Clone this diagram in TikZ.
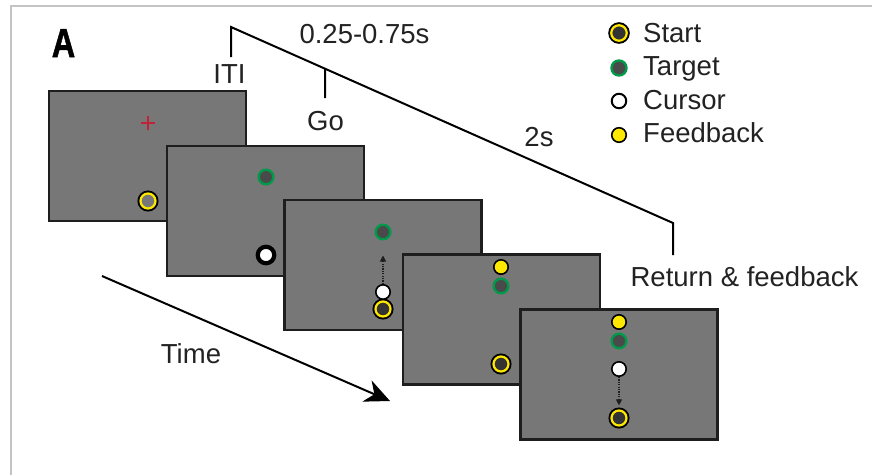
\documentclass[tikz,border=0pt]{standalone}
\usepackage{fontspec}
\setmainfont{Liberation Sans}
\newfontfamily\panelfont[FakeBold=1.5]{Liberation Sans Bold}
\usetikzlibrary{arrows.meta,calc}
\definecolor{scr}{HTML}{777777}
\definecolor{edge}{HTML}{1E1E1E}
\definecolor{tgtgreen}{HTML}{00994A}
\definecolor{tgtfill}{HTML}{4A4A4A}
\definecolor{startfill}{HTML}{333333}
\definecolor{fbyellow}{HTML}{FFE800}
\definecolor{crossred}{HTML}{C02338}
\definecolor{txt}{HTML}{222222}
\definecolor{framegray}{HTML}{C4C4C4}
\begin{document}
\begin{tikzpicture}[x=1pt,y=-1pt,
  screen/.style={draw=edge, fill=scr, line width=2.5pt, minimum width=197pt, minimum height=130pt, inner sep=0pt, outer sep=0pt},
  startmk/.style={circle, inner sep=0pt, minimum size=15pt, fill=startfill, draw=fbyellow, line width=2.2pt, preaction={draw=black, line width=6pt}},
  startgray/.style={startmk, fill=scr},
  tgtmk/.style={circle, inner sep=0pt, minimum size=14.6pt, fill=tgtfill, draw=tgtgreen, line width=2.4pt},
  bigcur/.style={circle, inner sep=0pt, minimum size=16.5pt, fill=white, draw=black, line width=4.2pt},
  curmk/.style={circle, inner sep=0pt, minimum size=14.4pt, fill=white, draw=black, line width=1.6pt},
  fbmk/.style={circle, inner sep=0pt, minimum size=14.4pt, fill=fbyellow, draw=black, line width=1.6pt},
  lbl/.style={font=\fontsize{27.5}{30}\selectfont, text=txt, inner sep=0pt, anchor=base},
  legtxt/.style={lbl, anchor=base west},
  tline/.style={draw=black, line width=2pt},
  dotarrow/.style={draw=edge, line width=1.1pt, dash pattern=on 1.2pt off 1.2pt, -{Triangle[length=6pt,width=6pt]}},
]
\useasboundingbox (0,0) rectangle (872,475);
\fill[white] (0,0) rectangle (872,475);
\draw[framegray, line width=1.2pt] (11,475) -- (11,6) -- (872,6);

% panel letter
\node[inner sep=0pt, anchor=base, text=black] (panelA) at (63.5,57)
  {\scalebox{0.8}[1]{\fontsize{40.5}{42}\panelfont A}};

% timeline
\coordinate (itiBot) at (231,57);
\coordinate (itiTop) at (231,27);
\coordinate (retTop) at (673,223);
\coordinate (retBot) at (673,255);
\coordinate (goTop) at ($(itiTop)!0.2127!(retTop)$);
\coordinate (goBot) at (325,98);
\draw[tline, line join=miter] (itiBot) -- (itiTop) -- (retTop) -- (retBot);
\draw[tline] (goTop) -- (goBot);

\node[lbl] (iti) at (229.5,83) {ITI};
\node[lbl] (dur1) at (364.5,43) {0.25-0.75s};
\node[lbl] (go) at (325.5,130) {Go};
\node[lbl] (dur2) at (539,146) {2s};
\node[lbl] (ret) at (744.5,286) {Return \& feedback};

% legend
\node[startmk, minimum size=15.5pt] (legStart) at (619,33) {};
\node[tgtmk, minimum size=15pt] (legTgt) at (619,68) {};
\node[curmk, minimum size=14.5pt, line width=2pt] (legCur) at (619,101) {};
\node[fbmk, minimum size=14.5pt] (legFb) at (619,135) {};
\node[legtxt] (legStartT) at (643,42) {Start};
\node[legtxt] (legTgtT) at (643,75.5) {Target};
\node[legtxt] (legCurT) at (643,109) {Cursor};
\node[legtxt] (legFbT) at (643,142.5) {Feedback};

% time arrow
\coordinate (timeA) at (102,276);
\coordinate (timeB) at (390,401);
\draw[tline, -{Stealth[length=25pt, width=23pt, inset=8pt]}] (timeA) -- (timeB);
\node[lbl] (time) at (191,363) {Time};

% screen 1
\node[screen] (s1) at (147.5,156) {};
\coordinate (cross) at (148,123);
\draw[crossred, line width=2pt] ($(cross)+(-7,0)$) -- ($(cross)+(7,0)$) ($(cross)+(0,-7)$) -- ($(cross)+(0,7)$);
\node[startgray] (s1start) at (148,201) {};

% screen 2
\node[screen] (s2) at (265.5,211) {};
\node[tgtmk] (s2tgt) at (266,177) {};
\node[bigcur] (s2cur) at (266,255) {};

% screen 3
\node[screen] (s3) at (383,265) {};
\node[tgtmk] (s3tgt) at (383,232) {};
\node[startmk] (s3start) at (383,309) {};
\node[curmk] (s3cur) at (383,292) {};
\draw[dotarrow] (s3cur.north) -- ([yshift=-15pt]s3tgt.south);

% screen 4
\node[screen] (s4) at (501.5,319.5) {};
\node[fbmk] (s4fb) at (501,267) {};
\node[tgtmk] (s4tgt) at (501,286) {};
\node[startmk] (s4start) at (501,364) {};

% screen 5
\node[screen] (s5) at (619,374.5) {};
\node[fbmk] (s5fb) at (619,322) {};
\node[tgtmk] (s5tgt) at (619,341) {};
\node[curmk] (s5cur) at (619,369) {};
\node[startmk] (s5start) at (619,418) {};
\draw[dotarrow] (s5cur.south) -- ([yshift=4pt]s5start.north);
\end{tikzpicture}
\end{document}
